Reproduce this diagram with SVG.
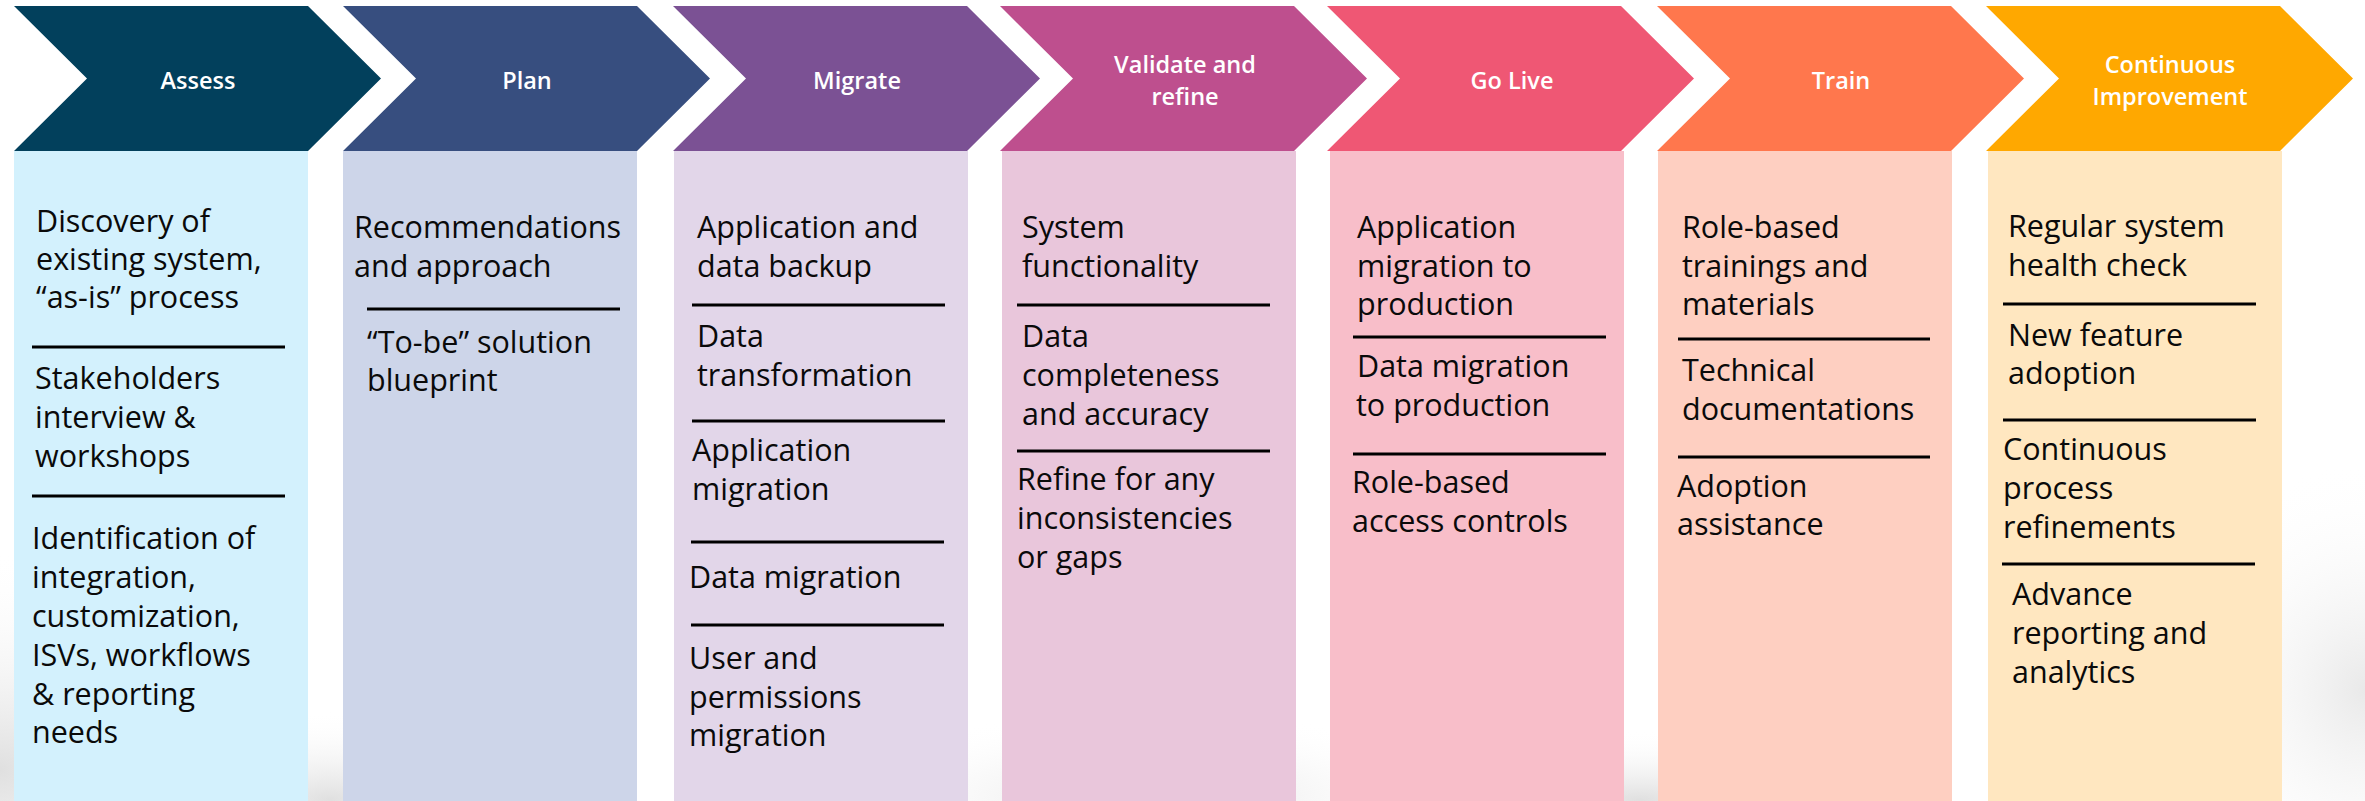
<svg xmlns="http://www.w3.org/2000/svg" width="2365" height="801" viewBox="0 0 2365 801">
  <defs>
    <radialGradient id="fog">
      <stop offset="0" stop-color="#dcdcdc" stop-opacity="0.9"/>
      <stop offset="1" stop-color="#ffffff" stop-opacity="0"/>
    </radialGradient>
    <style>
      .hd { font-family: "Open Sans", "Noto Sans", "Liberation Sans", sans-serif; font-size: 23.5px; font-weight: 600; fill: #ffffff; text-anchor: middle; }
      .tx { font-family: "Open Sans", "Noto Sans", "Liberation Sans", sans-serif; font-size: 30.5px; fill: #0a0a0a; }
      .dv { stroke: #000000; stroke-width: 3; }
    </style>
  </defs>
  <rect x="0" y="0" width="2365" height="801" fill="#ffffff"/>
  <g id="background">
    <ellipse cx="0" cy="770" rx="260" ry="220" fill="url(#fog)"/>
    <ellipse cx="330" cy="800" rx="220" ry="90" fill="url(#fog)"/>
    <ellipse cx="1150" cy="800" rx="320" ry="90" fill="url(#fog)"/>
    <ellipse cx="1640" cy="800" rx="260" ry="70" fill="url(#fog)"/>
    <ellipse cx="2365" cy="690" rx="200" ry="230" fill="url(#fog)" opacity="0.7"/>
  </g>

  <g id="assess">
    <rect x="14" y="151" width="294" height="650" fill="#D3F1FD"/>
    <polygon points="14,6 308,6 381,78.5 308,151 14,151 87,78.5" fill="#02405C"/>
    <text class="hd" x="198" y="89">Assess</text>
    <text class="tx" x="36" y="232">Discovery of</text>
    <text class="tx" x="36" y="270">existing system,</text>
    <text class="tx" x="36" y="308">“as-is” process</text>
    <line class="dv" x1="32" y1="347" x2="285" y2="347"/>
    <text class="tx" x="35" y="389">Stakeholders</text>
    <text class="tx" x="35" y="428">interview &amp;</text>
    <text class="tx" x="35" y="467">workshops</text>
    <line class="dv" x1="32" y1="496" x2="285" y2="496"/>
    <text class="tx" x="32" y="549">Identification of</text>
    <text class="tx" x="32" y="588">integration,</text>
    <text class="tx" x="32" y="627">customization,</text>
    <text class="tx" x="32" y="666">ISVs, workflows</text>
    <text class="tx" x="32" y="705">&amp; reporting</text>
    <text class="tx" x="32" y="743">needs</text>
  </g>

  <g id="plan">
    <rect x="343" y="151" width="294" height="650" fill="#CDD5E9"/>
    <polygon points="343,6 637,6 710,78.5 637,151 343,151 416,78.5" fill="#374E7F"/>
    <text class="hd" x="527" y="89">Plan</text>
    <text class="tx" x="354" y="238">Recommendations</text>
    <text class="tx" x="354" y="277">and approach</text>
    <line class="dv" x1="367" y1="309" x2="620" y2="309"/>
    <text class="tx" x="367" y="353">“To-be” solution</text>
    <text class="tx" x="367" y="391">blueprint</text>
  </g>

  <g id="migrate">
    <rect x="674" y="151" width="294" height="650" fill="#E2D6E9"/>
    <polygon points="673,6 967,6 1040,78.5 967,151 673,151 746,78.5" fill="#7B5194"/>
    <text class="hd" x="857" y="89">Migrate</text>
    <text class="tx" x="697" y="238">Application and</text>
    <text class="tx" x="697" y="277">data backup</text>
    <line class="dv" x1="692" y1="305" x2="945" y2="305"/>
    <text class="tx" x="697" y="347">Data</text>
    <text class="tx" x="697" y="386">transformation</text>
    <line class="dv" x1="692" y1="421" x2="945" y2="421"/>
    <text class="tx" x="692" y="461">Application</text>
    <text class="tx" x="692" y="500">migration</text>
    <line class="dv" x1="691" y1="542" x2="944" y2="542"/>
    <text class="tx" x="689" y="588">Data migration</text>
    <line class="dv" x1="691" y1="625" x2="944" y2="625"/>
    <text class="tx" x="689" y="669">User and</text>
    <text class="tx" x="689" y="708">permissions</text>
    <text class="tx" x="689" y="746">migration</text>
  </g>

  <g id="validate">
    <rect x="1002" y="151" width="294" height="650" fill="#E9C6DB"/>
    <polygon points="1000,6 1294,6 1367,78.5 1294,151 1000,151 1073,78.5" fill="#BE4F8E"/>
    <text class="hd" x="1185" y="73">Validate and</text>
    <text class="hd" x="1185" y="105">refine</text>
    <text class="tx" x="1022" y="238">System</text>
    <text class="tx" x="1022" y="277">functionality</text>
    <line class="dv" x1="1017" y1="305" x2="1270" y2="305"/>
    <text class="tx" x="1022" y="347">Data</text>
    <text class="tx" x="1022" y="386">completeness</text>
    <text class="tx" x="1022" y="425">and accuracy</text>
    <line class="dv" x1="1017" y1="451" x2="1270" y2="451"/>
    <text class="tx" x="1017" y="490">Refine for any</text>
    <text class="tx" x="1017" y="529">inconsistencies</text>
    <text class="tx" x="1017" y="568">or gaps</text>
  </g>

  <g id="go-live">
    <rect x="1330" y="151" width="294" height="650" fill="#F8BEC9"/>
    <polygon points="1327,6 1621,6 1694,78.5 1621,151 1327,151 1400,78.5" fill="#EF5774"/>
    <text class="hd" x="1512" y="89">Go Live</text>
    <text class="tx" x="1357" y="238">Application</text>
    <text class="tx" x="1357" y="277">migration to</text>
    <text class="tx" x="1357" y="315">production</text>
    <line class="dv" x1="1353" y1="337" x2="1606" y2="337"/>
    <text class="tx" x="1357" y="377">Data migration</text>
    <text class="tx" x="1356" y="416">to production</text>
    <line class="dv" x1="1353" y1="454" x2="1606" y2="454"/>
    <text class="tx" x="1352" y="493">Role-based</text>
    <text class="tx" x="1352" y="532">access controls</text>
  </g>

  <g id="train">
    <rect x="1658" y="151" width="294" height="650" fill="#FECFC1"/>
    <polygon points="1657,6 1951,6 2024,78.5 1951,151 1657,151 1730,78.5" fill="#FF774D"/>
    <text class="hd" x="1841" y="89">Train</text>
    <text class="tx" x="1682" y="238">Role-based</text>
    <text class="tx" x="1682" y="277">trainings and</text>
    <text class="tx" x="1682" y="315">materials</text>
    <line class="dv" x1="1678" y1="339" x2="1930" y2="339"/>
    <text class="tx" x="1682" y="381">Technical</text>
    <text class="tx" x="1682" y="420">documentations</text>
    <line class="dv" x1="1678" y1="457" x2="1930" y2="457"/>
    <text class="tx" x="1677" y="497">Adoption</text>
    <text class="tx" x="1677" y="535">assistance</text>
  </g>

  <g id="continuous-improvement">
    <rect x="1988" y="151" width="294" height="650" fill="#FFE7C0"/>
    <polygon points="1986,6 2280,6 2353,78.5 2280,151 1986,151 2059,78.5" fill="#FFA800"/>
    <text class="hd" x="2170" y="73">Continuous</text>
    <text class="hd" x="2170" y="105">Improvement</text>
    <text class="tx" x="2008" y="237">Regular system</text>
    <text class="tx" x="2008" y="276">health check</text>
    <line class="dv" x1="2003" y1="304" x2="2256" y2="304"/>
    <text class="tx" x="2008" y="346">New feature</text>
    <text class="tx" x="2008" y="384">adoption</text>
    <line class="dv" x1="2003" y1="420" x2="2256" y2="420"/>
    <text class="tx" x="2003" y="460">Continuous</text>
    <text class="tx" x="2003" y="499">process</text>
    <text class="tx" x="2003" y="538">refinements</text>
    <line class="dv" x1="2002" y1="564" x2="2255" y2="564"/>
    <text class="tx" x="2012" y="605">Advance</text>
    <text class="tx" x="2012" y="644">reporting and</text>
    <text class="tx" x="2012" y="683">analytics</text>
  </g>

  <g id="connectors"></g>
</svg>
